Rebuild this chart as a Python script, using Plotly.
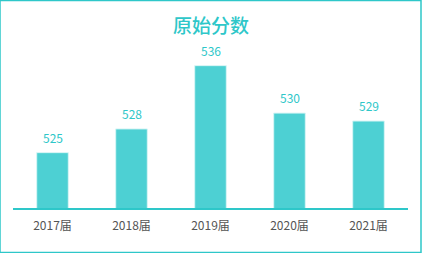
import plotly.graph_objects as go

categories = ["2017届", "2018届", "2019届", "2020届", "2021届"]
values = [525, 528, 536, 530, 529]

teal = "#2EC7C9"
bar_color = "#4DD0D3"
font = "Noto Sans CJK SC, Microsoft YaHei, sans-serif"

fig = go.Figure()
fig.add_trace(go.Bar(
    x=categories, y=values,
    marker=dict(color=bar_color, line=dict(color="#d8f5f5", width=1)),
    hoverinfo="skip",
))

for c, v in zip(categories, values):
    fig.add_annotation(x=c, y=v, text=str(v), showarrow=False, yanchor="bottom",
                       yshift=5, font=dict(family=font, size=12, color=teal))

fig.update_layout(
    width=422, height=253,
    margin=dict(l=13, r=14, t=34, b=45),
    paper_bgcolor="white", plot_bgcolor="white",
    bargap=0.6,
    showlegend=False,
    title=dict(text="原始分数", x=0.5, xanchor="center", y=1 - 26 / 253, yanchor="middle",
               font=dict(family=font, size=19, color=teal, weight=500)),
    xaxis=dict(showline=True, linecolor=teal, linewidth=2, ticks="", showgrid=False,
               ticklabelstandoff=6,
               tickfont=dict(family=font, size=12, color="#555555")),
    yaxis=dict(range=[518, 540], visible=False, showgrid=False),
)
fig.add_shape(type="rect", xref="paper", yref="paper", x0=-13 / 395, x1=1 + 13 / 395,
              y0=-44.5 / 174, y1=1 + 33.5 / 174, line=dict(color=teal, width=1.5))

fig.write_html("out.html")
